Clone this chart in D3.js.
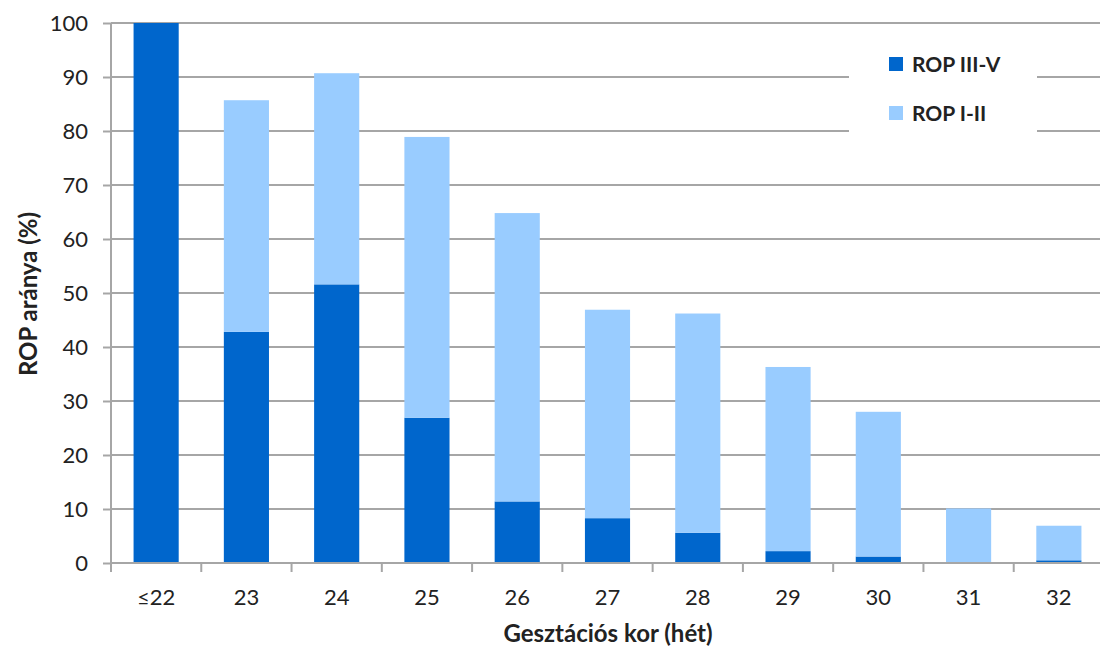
<!DOCTYPE html>
<html><head><meta charset="utf-8">
<script src="https://cdn.jsdelivr.net/npm/d3@7"></script>
<style>body{margin:0;background:#fff}svg text{font-family:Lato,"Open Sans",sans-serif;fill:#222}</style>
</head><body><svg id="c" width="1100" height="651"></svg>
<script>
const categories = ["≤22","23","24","25","26","27","28","29","30","31","32"];
const ropSevere = [100, 42.8, 51.6, 26.9, 11.4, 8.3, 5.6, 2.2, 1.2, 0, 0.5];   // ROP III-V
const ropMild   = [0, 42.9, 39.1, 52.0, 53.4, 38.6, 40.6, 34.1, 26.8, 10.1, 6.4]; // ROP I-II
const yTicks = [0,10,20,30,40,50,60,70,80,90,100];
const seriesNames = ["ROP III-V","ROP I-II"];
const colors = ["#0066cc","#99ccff"];

const svg = d3.select("#c");
const m = {l:111, r:1104, t:23, b:563};
const x = d3.scaleBand().domain(categories).range([m.l, m.r]).paddingInner(0.5).paddingOuter(0.25);
const y = d3.scaleLinear().domain([0,100]).range([m.b, m.t]);

// gridlines
svg.append("g").selectAll("line").data(yTicks.filter(d=>d>0)).join("line")
  .attr("x1", m.l).attr("x2", 1100).attr("y1", d=>y(d)).attr("y2", d=>y(d))
  .attr("stroke","#a6a6a6").attr("stroke-width",2);

// stacked bars
const rows = categories.map((c,i)=>({cat:c, s0:ropSevere[i], s1:ropMild[i]}));
const stack = d3.stack().keys(["s0","s1"])(rows);
svg.append("g").selectAll("g").data(stack).join("g")
  .attr("fill",(d,i)=>colors[i])
  .selectAll("rect").data(d=>d).join("rect")
  .attr("x", d=>x(d.data.cat)).attr("width", x.bandwidth())
  .attr("y", d=>y(d[1])).attr("height", d=>Math.max(0,y(d[0])-y(d[1])));

// y axis
const ya = svg.append("g").attr("transform",`translate(${m.l},0)`)
  .call(d3.axisLeft(y).tickValues(yTicks).tickSize(8).tickPadding(15));
ya.select(".domain").attr("stroke","#a6a6a6").attr("stroke-width",2).attr("d",`M0,${m.b}V${m.t}`);
ya.selectAll(".tick line").attr("stroke","#a6a6a6").attr("stroke-width",2);
ya.selectAll(".tick text").attr("font-size",22).attr("font-family","Lato,'Open Sans',sans-serif").attr("fill","#222");

// x axis with boundary ticks
const xg = svg.append("g");
xg.append("line").attr("x1",m.l).attr("x2",1100).attr("y1",m.b).attr("y2",m.b).attr("stroke","#a6a6a6").attr("stroke-width",2);
const step = x.step();
const bounds = d3.range(categories.length).map(i=>x(categories[i]) - step*0.25);
xg.selectAll("line.t").data(bounds).join("line").attr("class","t")
  .attr("x1",d=>d).attr("x2",d=>d).attr("y1",m.b).attr("y2",m.b+9)
  .attr("stroke","#a6a6a6").attr("stroke-width",2);
xg.selectAll("text").data(categories).join("text")
  .attr("x",d=>x(d)+x.bandwidth()/2).attr("y",605)
  .attr("text-anchor","middle").attr("font-size",22).text(d=>d);

// axis titles
svg.append("text").attr("transform","translate(37,294) rotate(-90)")
  .attr("text-anchor","middle").attr("font-size",24).attr("font-weight","bold").text("ROP aránya (%)");
svg.append("text").attr("x",608).attr("y",642)
  .attr("text-anchor","middle").attr("font-size",24).attr("font-weight","bold").text("Gesztációs kor (hét)");

// legend
svg.append("rect").attr("x",849).attr("y",40).attr("width",188).attr("height",100).attr("fill","#fff");
const lg = svg.append("g").selectAll("g").data(seriesNames).join("g")
  .attr("transform",(d,i)=>`translate(889,${57+i*49})`);
lg.append("rect").attr("width",14).attr("height",14).attr("fill",(d,i)=>colors[i]);
lg.append("text").attr("x",23).attr("y",15).attr("font-size",21).attr("font-weight","bold").text(d=>d);
</script></body></html>
